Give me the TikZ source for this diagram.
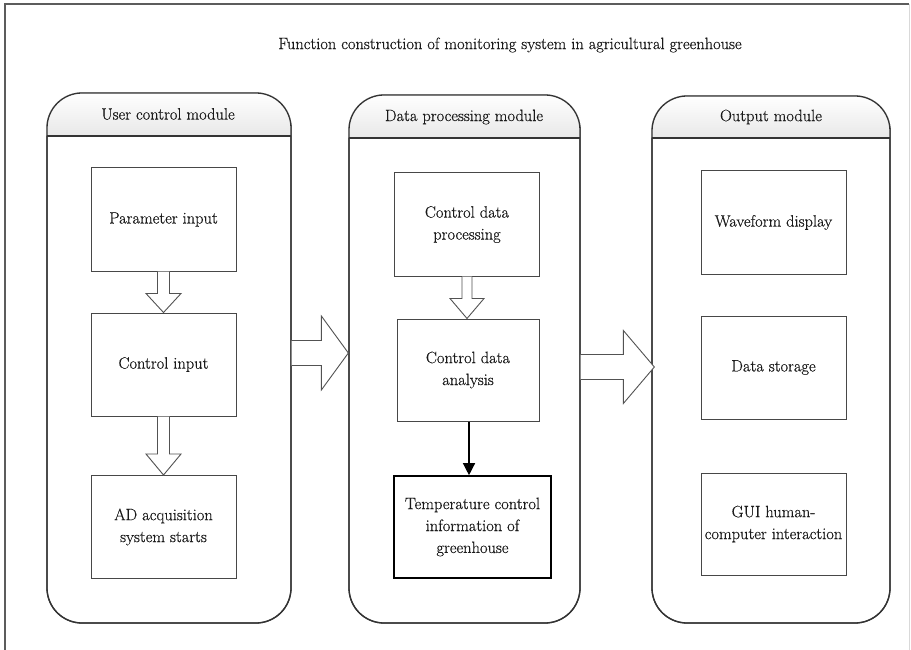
\documentclass[tikz,border=0pt]{standalone}
\usepackage{fontspec}
\newfontfamily\tnr{Latin Modern Roman}[FakeBold=0.5]
\usetikzlibrary{arrows.meta,calc}
\definecolor{ink}{HTML}{333333}
\definecolor{txt}{HTML}{1A1A1A}
\tikzset{
  lbl/.style={font=\tnr\fontsize{16.5}{22}\selectfont, text=txt, align=center, inner sep=0pt},
  modbox/.style={draw=ink, line width=1.3bp, rounded corners=35bp},
  inbox/.style={draw=ink!90, line width=1bp, lbl, minimum width=145bp, minimum height=103bp},
  strongbox/.style={draw=black, line width=1.6bp, lbl, minimum width=157bp, minimum height=102bp},
  hollow/.style={draw=ink!85, line width=0.9bp, fill=white, line join=miter},
  headfill/.style={top color=white, bottom color=gray!18},
}
\begin{document}
\begin{tikzpicture}[x=1bp,y=-1bp]
\useasboundingbox (0,0) rectangle (911,650);
\fill[white] (0,0) rectangle (911,650);
% outer frame
\draw[ink!80, line width=1.6bp] (5,650) -- (5,4) -- (909,4);
\draw[gray!30, line width=1bp] (909,4) -- (909,650);
% title
\node[lbl] (title) at (510,45) {Function construction of monitoring system in agricultural greenhouse};

% modules
\node[modbox, minimum width=244bp, minimum height=530bp] (m1) at (169,358) {};
\node[modbox, minimum width=231bp, minimum height=528bp] (m2) at (464.5,359) {};
\node[modbox, minimum width=238bp, minimum height=527bp] (m3) at (771,359.5) {};

% headers
\begin{scope}
\clip[rounded corners=35bp] (m1.north west) rectangle (m1.south east);
\shade[headfill] (m1.north west) rectangle (291,136);
\end{scope}
\begin{scope}
\clip[rounded corners=35bp] (m2.north west) rectangle (m2.south east);
\shade[headfill] (m2.north west) rectangle (580,138);
\end{scope}
\begin{scope}
\clip[rounded corners=35bp] (m3.north west) rectangle (m3.south east);
\shade[headfill] (m3.north west) rectangle (890,138);
\end{scope}
\node[modbox, minimum width=244bp, minimum height=530bp] at (m1) {};
\node[modbox, minimum width=231bp, minimum height=528bp] at (m2) {};
\node[modbox, minimum width=238bp, minimum height=527bp] at (m3) {};
\draw[ink, line width=1.3bp] (47,136) -- (291,136);
\draw[ink, line width=1.3bp] (349,138) -- (580,138);
\draw[ink, line width=1.3bp] (652,138) -- (890,138);

\node[lbl] (h1) at (168,114) {User control module};
\node[lbl] (h2) at (464,117) {Data processing module};
\node[lbl] (h3) at (771,117) {Output module};

% module 1 boxes
\node[inbox] (p1) at (163.5,219.5) {Parameter input};
\node[inbox] (p2) at (163.5,364.5) {Control input};
\node[inbox] (p3) at (163.5,527) {AD acquisition\\system starts};

% module 2 boxes
\node[inbox] (d1) at (467,224.5) {Control data\\processing};
\node[inbox, minimum width=142bp, minimum height=102bp] (d2) at (468,370) {Control data\\analysis};
\node[strongbox] (d3) at (472.5,527) {Temperature control\\information of\\greenhouse};

% module 3 boxes
\node[inbox] (o1) at (773.5,222.5) {Waveform display};
\node[inbox] (o2) at (773.5,367.5) {Data storage};
\node[inbox, minimum height=102bp] (o3) at (773.5,524) {GUI human-\\computer interaction};

% hollow vertical arrows
\draw[hollow] ($(p1.south)+(-6,0)$) -- ($(p2.north)+(-6,-19)$) -- ($(p2.north)+(-17.5,-19)$) -- (p2.north) -- ($(p2.north)+(17.5,-19)$) -- ($(p2.north)+(6,-19)$) -- ($(p1.south)+(6,0)$);
\draw[hollow] ($(p2.south)+(-6,0)$) -- ($(p3.north)+(-6,-21)$) -- ($(p3.north)+(-17.5,-21)$) -- (p3.north) -- ($(p3.north)+(17.5,-21)$) -- ($(p3.north)+(6,-21)$) -- ($(p2.south)+(6,0)$);
\draw[hollow] ($(d1.south)+(-5,0)$) -- ($(d1.south |- d2.north)+(-5,-20)$) -- ($(d1.south |- d2.north)+(-17,-20)$) -- (d1.south |- d2.north) -- ($(d1.south |- d2.north)+(17,-20)$) -- ($(d1.south |- d2.north)+(5,-20)$) -- ($(d1.south)+(5,0)$);

% black arrow
\draw[black, line width=1.3bp, -{Triangle[length=12bp,width=12bp]}] ($(d2.south)+(1,0)$) -- ($(d2.south |- d3.north)+(1,0)$);

% big horizontal hollow arrows
\coordinate (s1) at ($(m1.east)+(0,-5)$);
\coordinate (t1) at ($(m2.west)+(0,-6)$);
\draw[hollow] ($(s1)+(0,-12.5)$) -- ($(t1)+(-27,-12.5)$) -- ($(t1)+(-27,-37)$) -- (t1) -- ($(t1)+(-27,37)$) -- ($(t1)+(-27,12.5)$) -- ($(s1)+(0,12.5)$);
\coordinate (s2) at ($(m2.east)+(0,8)$);
\coordinate (t2) at ($(m3.west)+(3,7.5)$);
\draw[hollow] ($(s2)+(0,-12.5)$) -- ($(t2)+(-31,-12.5)$) -- ($(t2)+(-31,-36.5)$) -- (t2) -- ($(t2)+(-31,36.5)$) -- ($(t2)+(-31,12.5)$) -- ($(s2)+(0,12.5)$);
\end{tikzpicture}
\end{document}
